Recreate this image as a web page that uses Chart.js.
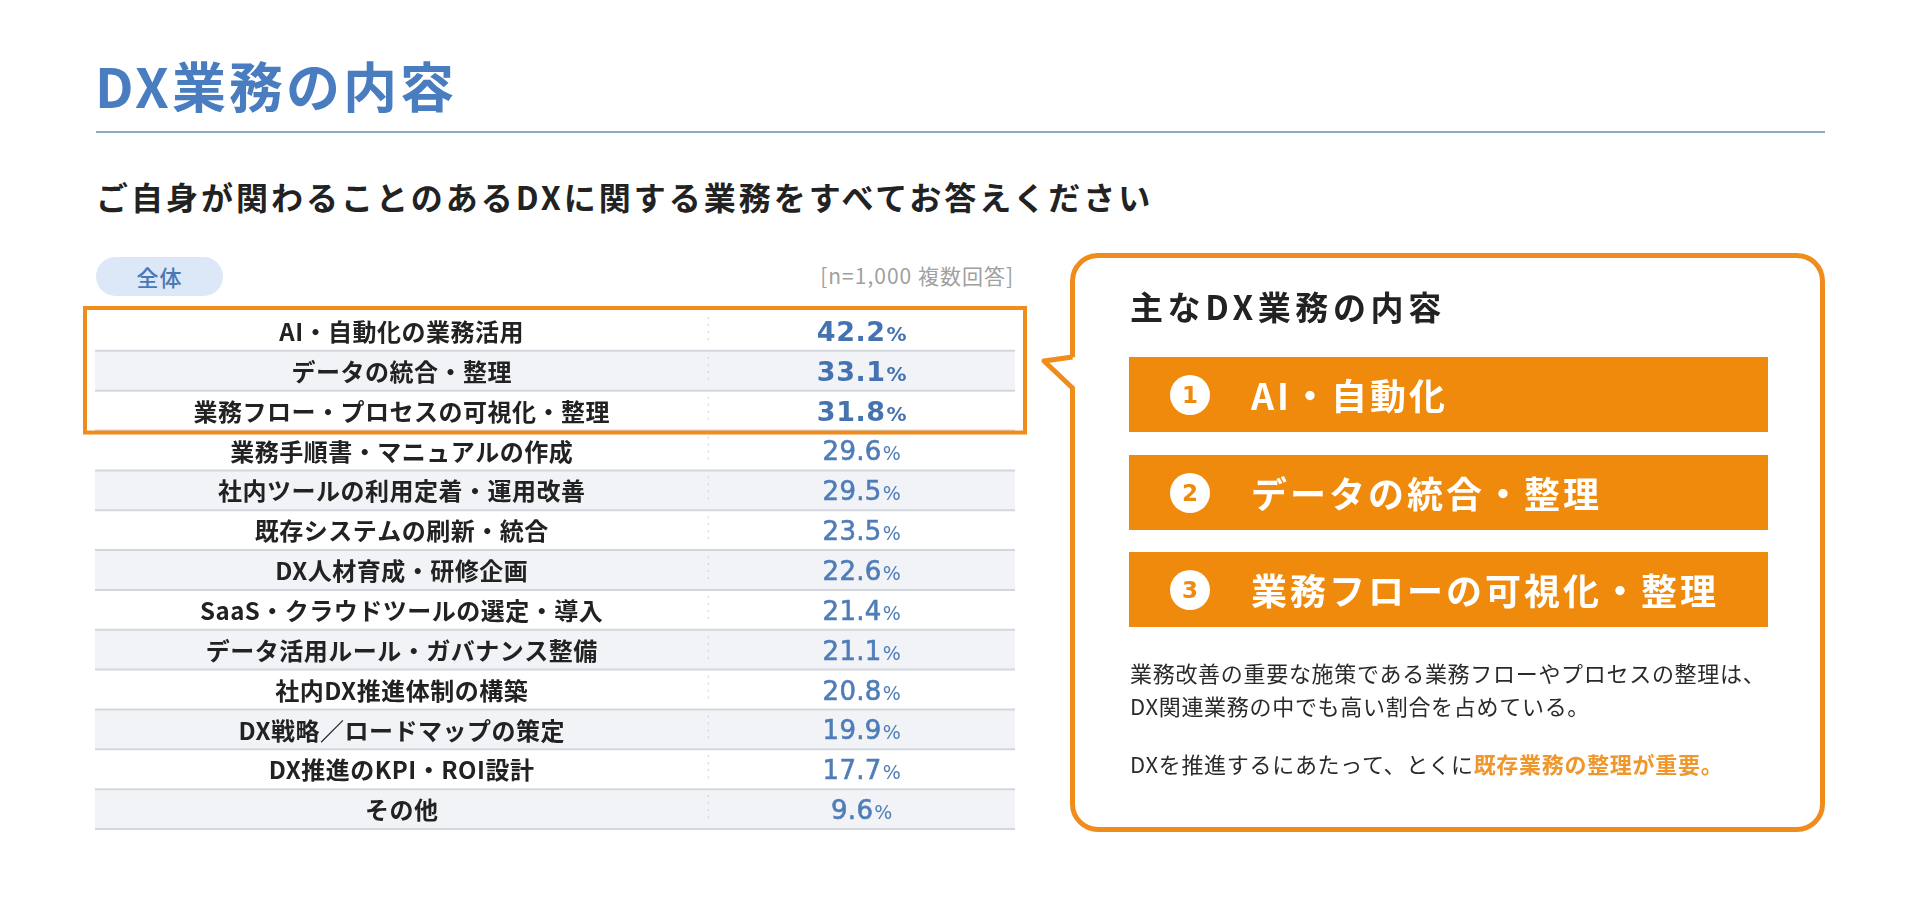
<!DOCTYPE html>
<html lang="ja">
<head>
<meta charset="utf-8">
<script src="https://cdn.jsdelivr.net/npm/chart.js@4.4.1/dist/chart.umd.min.js"></script>
<style>
  html, body { margin:0; padding:0; background:#ffffff; }
  body { width:1920px; height:897px; position:relative; overflow:hidden;
         font-family:"Noto Sans CJK JP","Noto Sans",sans-serif; }
  .abs { position:absolute; white-space:nowrap; }
  #title { left:95px; top:55px; font-size:54px; line-height:60px; font-weight:700; color:#4a7dc0; letter-spacing:3px; }
  #rule { left:96px; top:131px; width:1729px; height:2px; background:#8fa8c6; }
  #subtitle { left:96px; top:176px; font-size:32px; line-height:40px; font-weight:700; color:#222; letter-spacing:3.0px; }
  #pill { left:96px; top:257px; width:127px; height:39px; border-radius:20px; background:#dce8f7;
          color:#4a78b4; font-size:22px; line-height:39px; text-align:center; font-weight:500; letter-spacing:1px; }
  #note { right:906px; top:261px; font-size:21px; line-height:28px; color:#a0a0a0; letter-spacing:1px; }
  #tableWrap { left:80px; top:300px; width:960px; height:540px; }
  #box { left:1070px; top:253px; width:755px; height:579px; box-sizing:border-box;
         border:5px solid #f08c1a; border-radius:28px; background:#fff; }
  #pointer { left:0; top:0; width:1920px; height:897px; pointer-events:none; }
  #boxHead { left:1130px; top:286px; font-size:33px; line-height:40px; font-weight:700; color:#222; letter-spacing:4.6px; }
  .bar { position:absolute; left:1129px; width:639px; height:75px; background:#f08a0c; }
  .circ { position:absolute; left:41px; top:17.5px; width:40px; height:40px; border-radius:50%; background:#fff;
          color:#f08a0c; font-size:23px; line-height:40px; text-align:center; font-weight:700;
          font-family:"DejaVu Sans","Noto Sans",sans-serif; }
  .barText { position:absolute; left:122px; top:0; height:75px; line-height:75px; font-size:36px; font-weight:700;
             color:#fff; letter-spacing:3px; white-space:nowrap; }
  .desc { left:1130px; font-size:22px; line-height:32px; color:#2a2a2a; letter-spacing:0.7px; }
  .hl { color:#f0962a; font-weight:700; }
</style>
</head>
<body>
<div id="title" class="abs">DX業務の内容</div>
<div id="rule" class="abs"></div>
<div id="subtitle" class="abs">ご自身が関わることのあるDXに関する業務をすべてお答えください</div>
<div id="pill" class="abs">全体</div>
<div id="note" class="abs">[n=1,000 複数回答]</div>
<div id="tableWrap" class="abs"><canvas id="chart" width="960" height="540"></canvas></div>

<div id="box" class="abs"></div>
<svg id="pointer" class="abs" viewBox="0 0 1920 897">
  <polygon points="1076,357 1044,361 1076,388" fill="#ffffff"/>
  <polyline points="1072.5,357 1044,361 1072.5,388" fill="none" stroke="#f08c1a" stroke-width="5" stroke-linejoin="round"/>
</svg>
<div id="boxHead" class="abs">主なDX業務の内容</div>
<div id="bars"></div>
<div class="abs desc" style="top:656px;">業務改善の重要な施策である業務フローやプロセスの整理は、</div>
<div class="abs desc" style="top:689px;">DX関連業務の中でも高い割合を占めている。</div>
<div class="abs desc" style="top:747px;">DXを推進するにあたって、とくに<span class="hl">既存業務の整理が重要。</span></div>

<script>
// ---- data ----
const categories = [
  "AI・自動化の業務活用",
  "データの統合・整理",
  "業務フロー・プロセスの可視化・整理",
  "業務手順書・マニュアルの作成",
  "社内ツールの利用定着・運用改善",
  "既存システムの刷新・統合",
  "DX人材育成・研修企画",
  "SaaS・クラウドツールの選定・導入",
  "データ活用ルール・ガバナンス整備",
  "社内DX推進体制の構築",
  "DX戦略／ロードマップの策定",
  "DX推進のKPI・ROI設計",
  "その他"
];
const values = [42.2, 33.1, 31.8, 29.6, 29.5, 23.5, 22.6, 21.4, 21.1, 20.8, 19.9, 17.7, 9.6];
const topItems = ["AI・自動化", "データの統合・整理", "業務フローの可視化・整理"];
const topNumbers = ["1", "2", "3"];

// ---- style constants ----
const shadedRows = [1, 4, 6, 8, 10, 12];
const highlightCount = 3;
const barTops = [357, 455, 552];

// callout bars
const barsEl = document.getElementById('bars');
topItems.forEach((t, i) => {
  const b = document.createElement('div');
  b.className = 'bar';
  b.style.top = barTops[i] + 'px';
  b.innerHTML = '<div class="circ">' + topNumbers[i] + '</div><div class="barText">' + t + '</div>';
  barsEl.appendChild(b);
});

const tablePlugin = {
  id: 'tablePlugin',
  beforeDatasetsDraw(chart) {
    const { ctx, chartArea: { left, right }, scales: { y } } = chart;
    const band = y.getPixelForValue(1) - y.getPixelForValue(0);
    const divX = left + (right - left) * 2 / 3;
    ctx.save();
    categories.forEach((c, i) => {
      const cy = y.getPixelForValue(i);
      const top = cy - band / 2;
      if (shadedRows.includes(i)) {
        ctx.fillStyle = '#f1f3f6';
        ctx.fillRect(left, top, right - left, band);
      }
    });
    categories.forEach((c, i) => {
      const cy = y.getPixelForValue(i);
      const bottom = cy + band / 2;
      ctx.strokeStyle = '#d3d7dd';
      ctx.lineWidth = 2;
      ctx.setLineDash([]);
      ctx.beginPath();
      ctx.moveTo(left, bottom);
      ctx.lineTo(right, bottom);
      ctx.stroke();
      ctx.strokeStyle = '#c9cdd3';
      ctx.lineWidth = 1;
      ctx.setLineDash([2, 5]);
      ctx.beginPath();
      ctx.moveTo(divX, cy - band / 2 + 6);
      ctx.lineTo(divX, cy + band / 2 - 6);
      ctx.stroke();
    });
    ctx.restore();
  },
  afterDatasetsDraw(chart) {
    const { ctx, chartArea: { left, right }, scales: { y } } = chart;
    const band = y.getPixelForValue(1) - y.getPixelForValue(0);
    const w = right - left;
    const labelX = left + w / 3;
    const valueX = left + w * 5 / 6;
    const meta = chart.getDatasetMeta(0);
    ctx.save();
    ctx.textBaseline = 'middle';
    ctx.textAlign = 'center';
    categories.forEach((c, i) => {
      const cy = y.getPixelForValue(i);
      ctx.fillStyle = '#222222';
      ctx.font = '700 24px "Noto Sans CJK JP"';
      ctx.letterSpacing = '0.5px';
      ctx.fillText(c, labelX, cy + 1);
    });
    ctx.textAlign = 'left';
    ctx.textBaseline = 'alphabetic';
    meta.data.forEach((el, i) => {
      const v = chart.data.datasets[0].data[i];
      const cy = y.getPixelForValue(i);
      const bold = i < highlightCount;
      const numFont = (bold ? '700 27px' : '400 26px') + ' "DejaVu Sans"';
      const pctFont = (bold ? '700 20px' : '400 19px') + ' "DejaVu Sans"';
      const numStr = v.toFixed(1);
      ctx.letterSpacing = bold ? '0.5px' : '0.3px';
      ctx.font = numFont;
      const wn = ctx.measureText(numStr).width;
      ctx.letterSpacing = '0px';
      ctx.font = pctFont;
      const wp = ctx.measureText('%').width;
      const x0 = valueX - (wn + wp + 1) / 2;
      const base = cy + 10;
      ctx.fillStyle = bold ? '#4573b2' : '#4f7db8';
      ctx.font = numFont;
      ctx.letterSpacing = bold ? '0.5px' : '0.3px';
      ctx.fillText(numStr, x0, base);
      if (!bold) { ctx.lineWidth = 0.6; ctx.strokeStyle = ctx.fillStyle; ctx.strokeText(numStr, x0, base); }
      ctx.letterSpacing = '0px';
      ctx.font = pctFont;
      ctx.fillText('%', x0 + wn + 1, base);
    });
    // highlight box around top rows
    const t = y.getPixelForValue(0) - band / 2 - 3;
    const b = y.getPixelForValue(highlightCount - 1) + band / 2 + 2;
    ctx.strokeStyle = '#ef8c1b';
    ctx.lineWidth = 4;
    ctx.setLineDash([]);
    ctx.strokeRect(left - 10, t, w + 20, b - t);
    ctx.restore();
  }
};

new Chart(document.getElementById('chart'), {
  type: 'bar',
  data: {
    labels: categories,
    datasets: [{
      data: values,
      backgroundColor: 'rgba(0,0,0,0)',
      borderWidth: 0,
      categoryPercentage: 1,
      barPercentage: 1
    }]
  },
  options: {
    indexAxis: 'y',
    responsive: false,
    animation: false,
    layout: { padding: { left: 15, right: 25, top: 11, bottom: 11 } },
    scales: {
      x: { display: false, min: 0, max: 50 },
      y: { display: false, offset: true }
    },
    plugins: { legend: { display: false }, tooltip: { enabled: false } }
  },
  plugins: [tablePlugin]
});
</script>
</body>
</html>
